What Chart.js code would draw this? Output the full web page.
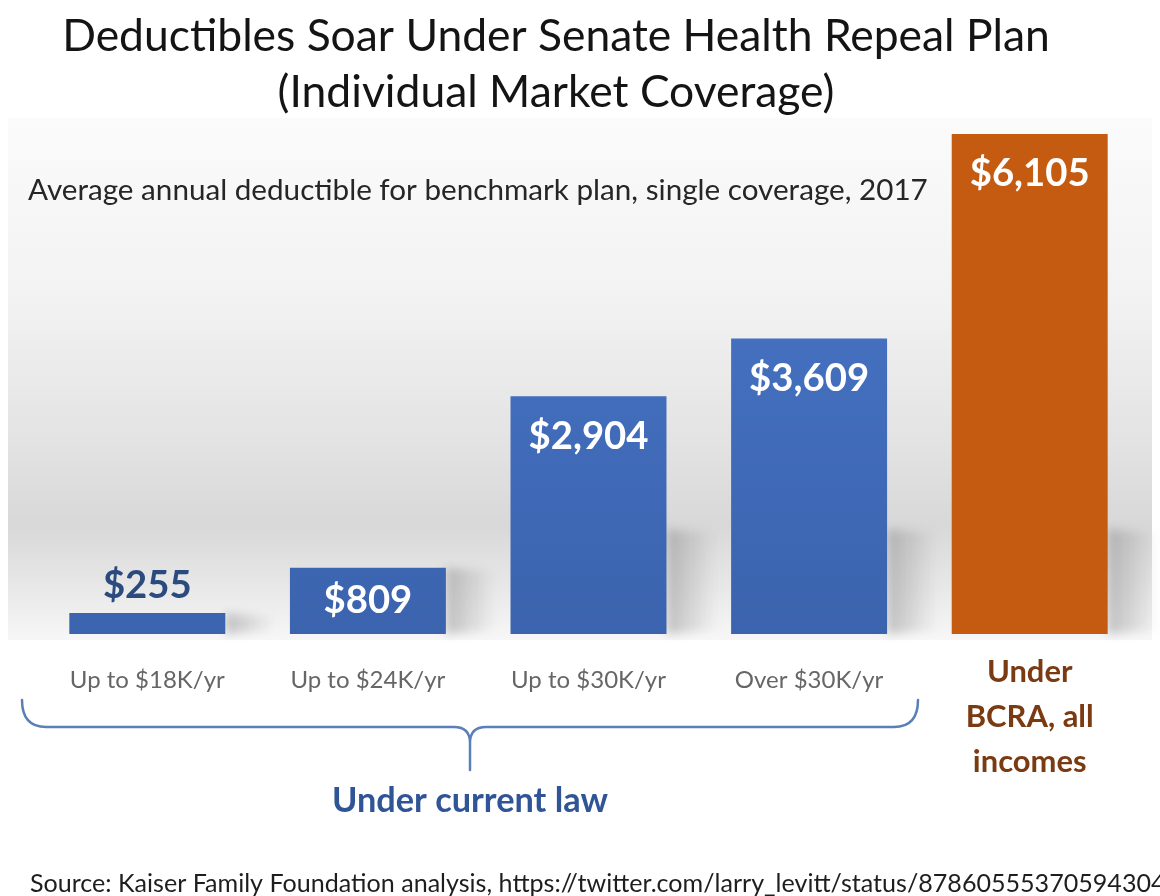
<!DOCTYPE html>
<html>
<head>
<meta charset="utf-8">
<script src="https://cdn.jsdelivr.net/npm/chart.js@4/dist/chart.umd.min.js"></script>
<style>
html,body{margin:0;padding:0;background:#ffffff;}
#wrap{width:1160px;height:896px;position:relative;}
</style>
</head>
<body>
<div id="wrap"><canvas id="c" width="1160" height="896"></canvas></div>
<script>
// ---- data ----
const categories = ["Up to $18K/yr", "Up to $24K/yr", "Up to $30K/yr", "Over $30K/yr", "Under BCRA, all incomes"];
const categoryLines = [["Up to $18K/yr"], ["Up to $24K/yr"], ["Up to $30K/yr"], ["Over $30K/yr"], ["Under", "BCRA, all", "incomes"]];
const deductibles = [255, 809, 2904, 3609, 6105];
const valueLabels = ["$255", "$809", "$2,904", "$3,609", "$6,105"];
const titleLines = ["Deductibles Soar Under Senate Health Repeal Plan", "(Individual Market Coverage)"];
const subtitleText = "Average annual deductible for benchmark plan, single coverage, 2017";
const groupLabel = "Under current law";
const sourceText = "Source: Kaiser Family Foundation analysis, https://twitter.com/larry_levitt/status/878605553705943040";

const FAMILY = "Lato, 'Open Sans', 'DejaVu Sans', sans-serif";

function fitFont(ctx, text, weight, targetWidth) {
  ctx.font = weight + " 100px " + FAMILY;
  const w = ctx.measureText(text).width;
  const size = 100 * targetWidth / w;
  return weight + " " + size.toFixed(2) + "px " + FAMILY;
}

const decorPlugin = {
  id: 'decor',
  beforeDraw(chart) {
    const ctx = chart.ctx;
    const area = chart.chartArea;
    ctx.save();
    ctx.fillStyle = '#ffffff';
    ctx.fillRect(0, 0, chart.width, chart.height);
    const top = area.top, bot = area.bottom + 6;
    const g = ctx.createLinearGradient(0, top, 0, bot);
    g.addColorStop(0, '#fbfbfb');
    g.addColorStop(0.35, '#f2f2f2');
    g.addColorStop(0.62, '#e3e3e3');
    g.addColorStop(0.78, '#d8d8d8');
    g.addColorStop(0.9, '#e8e8e8');
    g.addColorStop(1, '#f7f7f7');
    ctx.fillStyle = g;
    ctx.fillRect(8, top, chart.width - 16, bot - top);
    ctx.restore();
  },
  beforeDatasetsDraw(chart) {
    const ctx = chart.ctx;
    const meta = chart.getDatasetMeta(0);
    ctx.save();
    ctx.filter = 'blur(5px)';
    meta.data.forEach((bar) => {
      const right = bar.x + bar.width / 2;
      const h = Math.min(bar.base - bar.y, 105);
      const y0 = bar.base - h;
      const sg = ctx.createLinearGradient(right, 0, right + 50, 0);
      sg.addColorStop(0, 'rgba(110,110,110,0.38)');
      sg.addColorStop(1, 'rgba(110,110,110,0)');
      ctx.fillStyle = sg;
      ctx.beginPath();
      ctx.moveTo(right, bar.base);
      ctx.lineTo(right, y0);
      ctx.lineTo(right + 50, y0 + 4);
      ctx.lineTo(right + 50, bar.base - 4);
      ctx.closePath();
      ctx.fill();
    });
    ctx.restore();
  },
  afterDraw(chart) {
    const ctx = chart.ctx;
    const xs = chart.scales.x;
    const meta = chart.getDatasetMeta(0);
    ctx.save();
    ctx.textBaseline = 'middle';

    ctx.fillStyle = '#141414';
    ctx.textAlign = 'center';
    ctx.font = fitFont(ctx, titleLines[0], 'normal', 988);
    ctx.fillText(titleLines[0], 556, 37);
    ctx.font = fitFont(ctx, titleLines[1], 'normal', 557);
    ctx.fillText(titleLines[1], 556, 93);

    ctx.fillStyle = '#262626';
    ctx.textAlign = 'left';
    ctx.font = fitFont(ctx, subtitleText, 'normal', 900);
    ctx.fillText(subtitleText, 28, 190);

    ctx.font = fitFont(ctx, "$6,105", 'bold', 120);
    ctx.textAlign = 'center';
    meta.data.forEach((bar, i) => {
      const h = bar.base - bar.y;
      if (h < 40) {
        ctx.fillStyle = '#2b4a7d';
        ctx.fillText(valueLabels[i], bar.x, bar.y - 27);
      } else {
        ctx.fillStyle = '#ffffff';
        ctx.fillText(valueLabels[i], bar.x, bar.y + Math.min(40, h / 2));
      }
    });

    const catFont = fitFont(ctx, "Up to $18K/yr", 'normal', 155);
    categoryLines.forEach((lines, i) => {
      const x = xs.getPixelForValue(i);
      if (lines.length === 1) {
        ctx.font = catFont;
        ctx.fillStyle = '#666666';
        ctx.fillText(lines[0], x, 680);
      } else {
        ctx.font = fitFont(ctx, "BCRA, all", 'bold', 128);
        ctx.fillStyle = '#7a3a12';
        lines.forEach((ln, k) => ctx.fillText(ln, x, 672 + k * 45));
      }
    });

    const x0 = 22, x1 = 918, mid = (x0 + x1) / 2, yTop = 700, yLine = 727, yTip = 770;
    ctx.strokeStyle = '#5b80b8';
    ctx.lineWidth = 2.5;
    ctx.lineCap = 'round';
    ctx.beginPath();
    ctx.moveTo(x0, yTop);
    ctx.quadraticCurveTo(x0, yLine, x0 + 24, yLine);
    ctx.lineTo(mid - 16, yLine);
    ctx.quadraticCurveTo(mid, yLine, mid, yLine + 16);
    ctx.lineTo(mid, yTip);
    ctx.moveTo(mid, yLine + 16);
    ctx.quadraticCurveTo(mid, yLine, mid + 16, yLine);
    ctx.lineTo(x1 - 24, yLine);
    ctx.quadraticCurveTo(x1, yLine, x1, yTop);
    ctx.stroke();

    ctx.font = fitFont(ctx, groupLabel, 'bold', 276);
    ctx.fillStyle = '#2f5597';
    ctx.fillText(groupLabel, mid, 801);

    ctx.textAlign = 'left';
    ctx.fillStyle = '#1e1e1e';
    ctx.font = fitFont(ctx, sourceText, 'normal', 1150);
    ctx.fillText(sourceText, 30, 884);
    ctx.restore();
  }
};

function barColor(context) {
  const chart = context.chart;
  const area = chart.chartArea;
  if (context.dataIndex === 4) return '#c55a11';
  if (!area) return '#4472c4';
  const g = chart.ctx.createLinearGradient(0, area.top, 0, area.bottom);
  g.addColorStop(0, '#4a79cb');
  g.addColorStop(1, '#3b63ae');
  return g;
}

new Chart(document.getElementById('c'), {
  type: 'bar',
  data: {
    labels: categories,
    datasets: [{
      data: deductibles,
      backgroundColor: barColor,
      borderWidth: 0,
      barPercentage: 0.707,
      categoryPercentage: 1
    }]
  },
  options: {
    responsive: false,
    animation: false,
    layout: { padding: { left: 37, right: 20, top: 118, bottom: 262 } },
    plugins: { legend: { display: false }, tooltip: { enabled: false }, title: { display: false } },
    scales: {
      x: { display: false },
      y: { display: false, min: 0, max: 6300 }
    }
  },
  plugins: [decorPlugin]
});
</script>
</body>
</html>
